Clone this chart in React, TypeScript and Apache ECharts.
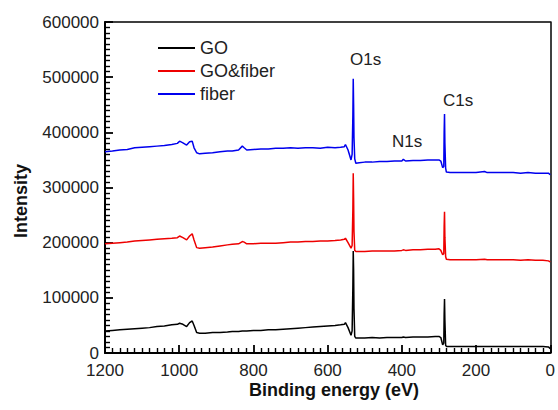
import React, { useEffect, useRef } from "react";
import * as echarts from "echarts";

const energy = [
  1200, 1180, 1160, 1140, 1120, 1100, 1080, 1060, 1040, 1020, 1005, 999, 990, 980, 972, 965, 960, 953, 945, 930,
  910, 890, 870, 857, 840, 830, 825, 818, 800, 780, 760, 740, 720, 700, 680, 660, 640, 620, 600, 580,
  565, 555, 552, 545, 537, 534, 532, 531, 530, 529, 527, 524, 515, 500, 480, 460, 440, 420, 400, 396,
  390, 370, 350, 330, 310, 300, 295, 290, 287, 286, 285, 284, 282, 280, 270, 250, 230, 200, 177, 170,
  150, 120, 100, 80, 60, 40, 20, 5, 0,
];

const fiberValues = [
  365000, 366000, 368000, 369000, 372000, 373000, 374000, 375000, 376000, 378000, 380000, 384000, 381000, 377000, 383000, 384000, 372000, 363000, 361000, 362000,
  363000, 365000, 366000, 366000, 368000, 375000, 372000, 368000, 369000, 370000, 370000, 371000, 371000, 372000, 371000, 372000, 372000, 371000, 373000, 372000,
  373000, 374000, 378000, 368000, 350000, 360000, 430000, 497000, 450000, 390000, 352000, 344000, 345000, 346000, 346000, 347000, 347000, 348000, 348000, 351000,
  348000, 349000, 349000, 350000, 350000, 350000, 348000, 336000, 338000, 400000, 433000, 380000, 335000, 328000, 327000, 327000, 327000, 327000, 329000, 327000,
  327000, 327000, 327000, 326000, 327000, 326000, 326000, 326000, 323000,
];

const goFiberValues = [
  198000, 199000, 200000, 201000, 203000, 204000, 205000, 206000, 207000, 208000, 209000, 212000, 209000, 205000, 212000, 216000, 205000, 191000, 190000, 191000,
  192000, 194000, 196000, 197000, 198000, 202000, 201000, 198000, 198000, 199000, 199000, 199000, 200000, 201000, 201000, 202000, 202000, 203000, 203000, 204000,
  205000, 206000, 208000, 200000, 190000, 195000, 260000, 326000, 280000, 220000, 186000, 184000, 184000, 184000, 185000, 185000, 185000, 185000, 186000, 187000,
  186000, 187000, 187000, 188000, 188000, 189000, 186000, 178000, 180000, 230000, 256000, 210000, 175000, 170000, 169000, 169000, 169000, 169000, 170000, 169000,
  169000, 169000, 169000, 168000, 169000, 168000, 168000, 167000, 165000,
];

const goValues = [
  40000, 41000, 42000, 43000, 44000, 45000, 46000, 48000, 49000, 51000, 52000, 54000, 52000, 48000, 55000, 58000, 50000, 37000, 36000, 36000,
  37000, 37000, 38000, 39000, 39000, 40000, 40000, 40000, 41000, 41000, 42000, 42000, 43000, 44000, 45000, 46000, 47000, 48000, 49000, 50000,
  51000, 52000, 55000, 46000, 32000, 40000, 120000, 185000, 150000, 80000, 30000, 27000, 27000, 27000, 28000, 27000, 28000, 28000, 28000, 29000,
  28000, 29000, 29000, 29000, 30000, 30000, 28000, 15000, 18000, 70000, 98000, 60000, 14000, 12000, 12000, 12000, 12000, 12000, 12000, 12000,
  12000, 12000, 12000, 12000, 12000, 12000, 12000, 11000, 8000,
];

const seriesNames = ["GO", "GO&fiber", "fiber"];
const seriesColors = ["#000000", "#ee0000", "#0000ee"];
const xTicks = [0, 200, 400, 600, 800, 1000, 1200];
const yTicks = [0, 100000, 200000, 300000, 400000, 500000, 600000];
const peakLabels = ["O1s", "N1s", "C1s"];

const FONT = "'Liberation Sans', Arial, sans-serif";
const TEXT = "#222";

export default function App() {
  const ref = useRef<HTMLDivElement>(null);
  useEffect(() => {
    if (!ref.current) return;
    const chart = echarts.init(ref.current, undefined, { renderer: "svg" });
    const all = [goValues, goFiberValues, fiberValues];
    const mkTick = () => ({ show: true, inside: true, length: 8, lineStyle: { color: "#000", width: 1.8 } });
    const mkMinor = () => ({ show: true, splitNumber: 10, length: 5, lineStyle: { color: "#000", width: 1.4 } });
    const plain = (v: number) => String(v);
    chart.setOption({
      animation: false,
      backgroundColor: "#ffffff",
      textStyle: { fontFamily: FONT },
      grid: { left: 105, right: 5, top: 22, bottom: 57 },
      legend: {
        orient: "vertical",
        left: 158,
        top: 39,
        padding: 0,
        itemWidth: 37,
        itemHeight: 14,
        itemGap: 5,
        icon: "path://M0,0H37V2H0Z",
        data: seriesNames,
        textStyle: { fontSize: 18, color: TEXT, fontFamily: FONT },
      },
      xAxis: [
        {
          type: "value",
          inverse: true,
          position: "bottom",
          min: xTicks[0],
          max: xTicks[xTicks.length - 1],
          interval: 200,
          axisLine: { show: true, onZero: false, lineStyle: { color: "#000", width: 2 } },
          axisTick: mkTick(),
          minorTick: mkMinor(),
          axisLabel: { fontSize: 17, color: TEXT, margin: 9, fontFamily: FONT, formatter: plain },
          splitLine: { show: false },
        },
        {
          type: "value",
          inverse: true,
          position: "top",
          min: xTicks[0],
          max: xTicks[xTicks.length - 1],
          interval: 200,
          axisLine: { show: true, onZero: false, lineStyle: { color: "#000", width: 1.5 } },
          axisTick: { show: false },
          axisLabel: { show: false },
          splitLine: { show: false },
        },
      ],
      yAxis: [
        {
          type: "value",
          position: "left",
          min: yTicks[0],
          max: yTicks[yTicks.length - 1],
          interval: 100000,
          axisLine: { show: true, onZero: false, lineStyle: { color: "#000", width: 2 } },
          axisTick: mkTick(),
          minorTick: mkMinor(),
          axisLabel: { fontSize: 17, color: TEXT, margin: 6, fontFamily: FONT, formatter: plain },
          splitLine: { show: false },
        },
        {
          type: "value",
          position: "right",
          min: yTicks[0],
          max: yTicks[yTicks.length - 1],
          interval: 100000,
          axisLine: { show: true, onZero: false, lineStyle: { color: "#000", width: 1.5 } },
          axisTick: { show: false },
          axisLabel: { show: false },
          splitLine: { show: false },
        },
      ],
      series: seriesNames.map((name, i) => ({
        name,
        type: "line",
        symbol: "none",
        showSymbol: false,
        color: seriesColors[i],
        lineStyle: { color: seriesColors[i], width: 1.5 },
        z: 2 + i,
        data: energy.map((e, j) => [e, all[i][j]]),
      })),
      graphic: [
        {
          type: "text",
          left: 249,
          top: 381,
          style: { text: "Binding energy (eV)", fill: "#111", font: `bold 18px ${FONT}` },
        },
        {
          type: "text",
          x: 12,
          y: 238,
          rotation: Math.PI / 2,
          style: { text: "Intensity", fill: "#111", font: `bold 18px ${FONT}` },
        },
        { type: "text", left: 350, top: 51, style: { text: peakLabels[0], fill: TEXT, font: `17px ${FONT}` } },
        { type: "text", left: 392, top: 133, style: { text: peakLabels[1], fill: TEXT, font: `17px ${FONT}` } },
        { type: "text", left: 443, top: 92, style: { text: peakLabels[2], fill: TEXT, font: `17px ${FONT}` } },
      ],
    });
    return () => chart.dispose();
  }, []);
  return <div ref={ref} style={{ position: "fixed", left: 0, top: 0, width: 558, height: 410 }} />;
}
